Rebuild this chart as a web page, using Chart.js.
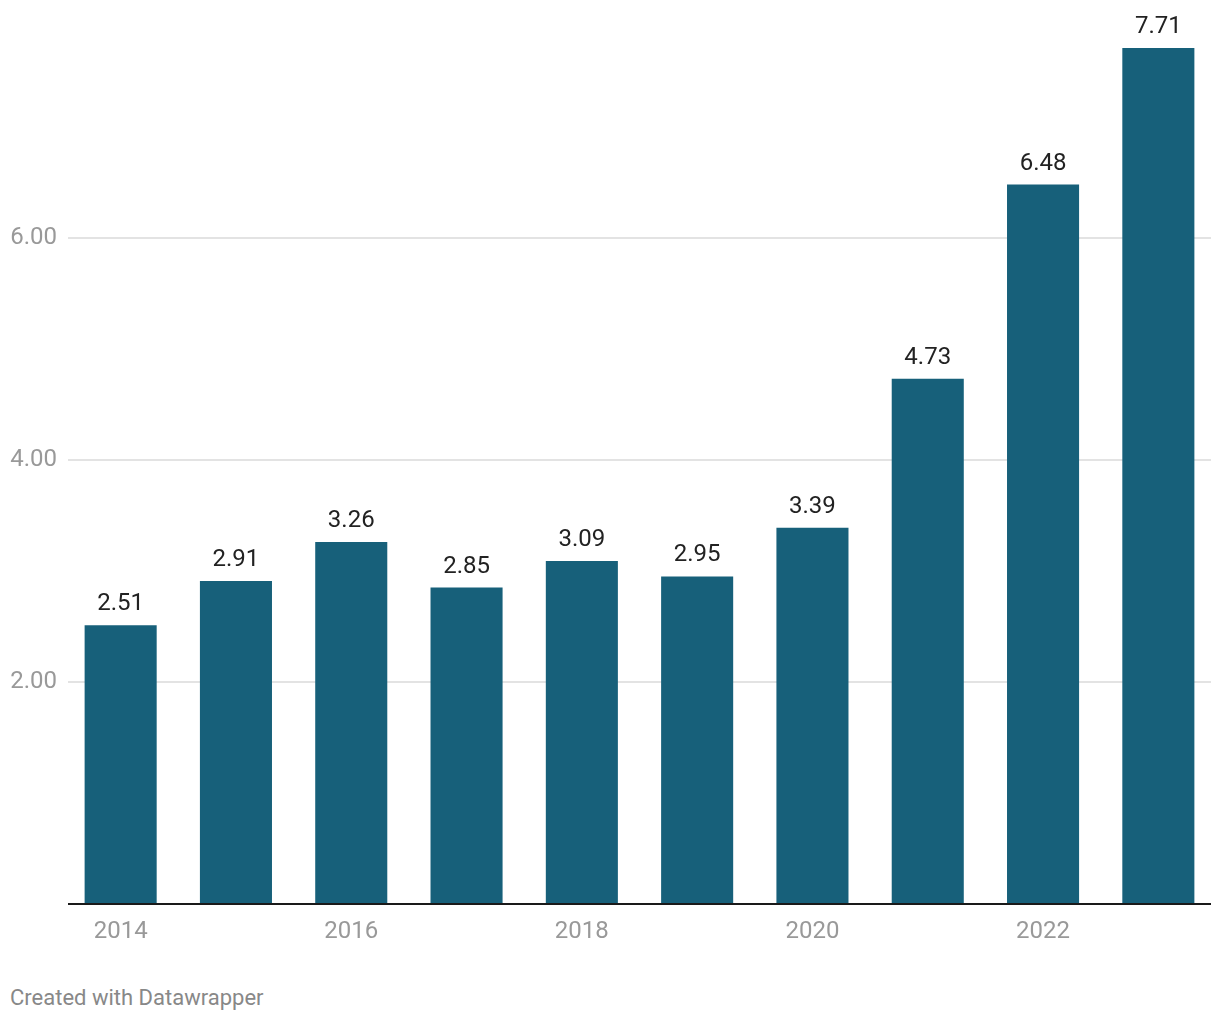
<!DOCTYPE html>
<html lang="en">
<head>
  <meta charset="UTF-8" />
  <title>Bar chart</title>
  <script src="https://cdn.jsdelivr.net/npm/chart.js"></script>
  <style>
    body {
      margin: 0;
      background: #fff;
      font-family: Roboto, sans-serif;
    }
    .chart-container {
      position: absolute;
      left: 0;
      top: 0;
      width: 1220px;
      height: 960px;
    }
    .footer {
      position: absolute;
      left: 10px;
      top: 985px;
      font-size: 22px;
      color: #888;
    }
  </style>
</head>
<body>
  <div class="chart-container">
    <canvas id="barChart"></canvas>
  </div>
  <div class="footer">Created with Datawrapper</div>

  <script>
    const years = ['2014', '2015', '2016', '2017', '2018', '2019', '2020', '2021', '2022', '2023'];
    const values = [2.51, 2.91, 3.26, 2.85, 3.09, 2.95, 3.39, 4.73, 6.48, 7.71];
    const yTicks = [2, 4, 6];
    const shownYears = ['2014', '2016', '2018', '2020', '2022'];

    const barColor = '#17607a';

    // light grid lines + dark baseline, inset a little from the plot edges
    const gridPlugin = {
      id: 'dwGrid',
      beforeDatasetsDraw(chart) {
        const { ctx, chartArea, scales } = chart;
        ctx.save();
        ctx.strokeStyle = '#e3e3e3';
        ctx.lineWidth = 2;
        yTicks.forEach(v => {
          const y = Math.round(scales.y.getPixelForValue(v));
          ctx.beginPath();
          ctx.moveTo(chartArea.left + 5, y);
          ctx.lineTo(chartArea.right - 5, y);
          ctx.stroke();
        });
        ctx.restore();
      },
      afterDatasetsDraw(chart) {
        const { ctx, chartArea, scales } = chart;
        const y = scales.y.getPixelForValue(0);
        ctx.save();
        ctx.strokeStyle = '#1a1a1a';
        ctx.lineWidth = 2;
        ctx.beginPath();
        ctx.moveTo(chartArea.left + 5, y);
        ctx.lineTo(chartArea.right - 5, y);
        ctx.stroke();

        // value labels above bars
        ctx.fillStyle = '#222';
        ctx.font = '24px Roboto';
        ctx.textAlign = 'center';
        ctx.textBaseline = 'alphabetic';
        chart.getDatasetMeta(0).data.forEach((bar, i) => {
          ctx.fillText(values[i].toFixed(2), bar.x, bar.y - 15);
        });
        ctx.restore();
      }
    };

    new Chart(document.getElementById('barChart'), {
      type: 'bar',
      data: {
        labels: years,
        datasets: [{
          data: values,
          backgroundColor: barColor,
          categoryPercentage: 1,
          barPercentage: 0.625
        }]
      },
      options: {
        responsive: true,
        maintainAspectRatio: false,
        animation: false,
        layout: {
          padding: { top: 48, right: 4, bottom: 0, left: 0 }
        },
        plugins: {
          legend: { display: false },
          tooltip: { enabled: false }
        },
        scales: {
          x: {
            grid: { display: false, drawTicks: false },
            border: { display: false },
            afterFit: scale => { scale.height = 56; },
            ticks: {
              autoSkip: false,
              maxRotation: 0,
              padding: 14,
              color: '#999',
              font: { family: 'Roboto', size: 24 },
              callback: function (value) {
                const label = this.getLabelForValue(value);
                return shownYears.includes(label) ? label : '';
              }
            }
          },
          y: {
            min: 0,
            max: 7.71,
            grid: { display: false, drawTicks: false },
            border: { display: false },
            afterFit: scale => { scale.width = 63; },
            afterBuildTicks: scale => {
              scale.ticks = yTicks.map(v => ({ value: v }));
            },
            ticks: {
              padding: 6,
              color: '#999',
              font: { family: 'Roboto', size: 24 },
              callback: value => value.toFixed(2)
            }
          }
        }
      },
      plugins: [gridPlugin]
    });
  </script>
</body>
</html>
